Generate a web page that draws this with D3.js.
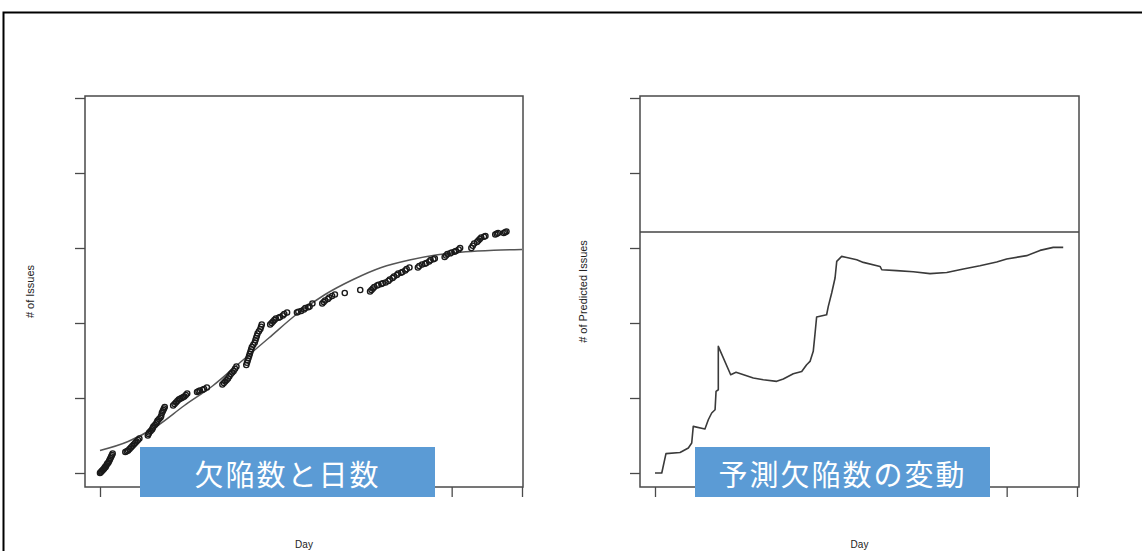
<!DOCTYPE html>
<html>
<head>
<meta charset="utf-8">
<script src="https://cdn.jsdelivr.net/npm/d3@7"></script>
<style>
  html, body { margin: 0; padding: 0; background: #fff; overflow: hidden; }
  svg { display: block; }
</style>
</head>
<body>
<svg id="chart" width="1142" height="551"></svg>
<script>
// ---------- data ----------
// Left panel: observed cumulative issues per day (scatter)
const issueDays = [0,0.5,1,1.5,2,2.5,3,3.5,4,4.5,5,5.5,6,6.5,7,7.5,8,8.5,9,
  18,19,20,21,22,23,24,25,26,27,28,
  34,34.5,35,36,37,37.5,38,39,40,40.5,41,42,43,43.5,44,44.5,45,45.5,46,
  52,53,54,55,56,57,58,59,60,61,62,
  69,70,71,73,74,76,
  87,88,89,90,91,92,93,94,95,96,97,
  104,104.5,105,105.5,106,106.5,107,107.5,108,109,110,110.5,111,111.5,112,113,114,114.5,115,
  121,122,123,124,125,127,128,130,131,133,
  140,141,143,145,146,148,149,151,
  158,159,160,162,163,165,167,
  174,185,
  192,193,194,195,197,198,200,201,203,205,206,208,209,211,212,214,215,217,218,220,
  226,227,229,231,232,234,235,237,238,
  245,246,247,249,250,252,253,255,256,
  264,265,266,268,269,270,271,273,274,
  281,282,283,287,288,289];
const issueCounts = [0,0.5,1,1.5,2,2.5,3,4,4,5,6,6.5,7,8,9,10,11,12,13,
  14,14.5,15,16,17,18,19,20,21,22,23,
  25,26,27,28,29,30,31,32,33,34,35,36,37,38,40,41,42,43,44,
  45,46,47,48,49,49.5,50,50.5,51,52,53,
  54,54.5,55,55.5,56,57,
  59,60,61,62,63,64.5,66,67,68,69.5,71,
  72,73.5,75,76.5,78,79.5,81,82.5,84,85.5,87,88.5,90,91.5,93,94.5,96,97.5,99,
  99,100,101,102,103,103.5,104,105,106,107,
  107,107.5,108,109,110,110.5,111,113,
  113,114,115,116,117,118,119,
  120,122,
  121,122,123,124,125,125.5,126,126.5,127,128,129,130,131,132,133,133.5,134,135,136,137,
  137,138,139,139.5,140,141,142,142.5,143,
  144,145,146,146.5,147,147.5,148,149,150,
  150,151.5,153,154,155,156,157,157.5,158,
  159,159.5,160,160,160.5,161];
// Left panel: fitted growth curve
const fitDays   = [0,20,40,60,80,100,120,140,160,180,200,220,240,260,280,300];
const fitCounts = [15,21,31,45,58,74,90,106,119,129,137,142,145.5,147.5,148.5,149];

// Right panel: predicted total issues over time
const predDays = [0,4.8,7.8,17.8,23.7,26.1,27.2,35.5,37.9,40.3,42.7,43.4,45,45,
  53.8,57.6,69.9,77,86.5,91.2,98.3,104.3,107.8,110.2,112.5,113.7,114.9,122,123.2,
  125.6,128,129.2,132.7,136.3,143.4,148.1,160,161.2,171.8,183.6,195.5,207.4,219.2,
  231,242.9,250,264.2,273.7,283.1,290.2];
const predCounts = [0,0,12.9,13.7,16.7,20,31.1,29.3,35.5,40,42.2,54.4,55.5,84.4,
  65.5,67.1,63.3,62.2,61.1,62.7,66.2,67.7,72.2,74.4,81.1,92.2,104,105.5,111.1,
  120,130,141.1,144.4,143.7,142.2,140.4,137.7,135.5,134.9,134.2,132.9,133.7,136,
  138.2,140.7,142.7,144.9,148.4,150.4,150.4];
const predReference = 160.7;

// Axes ticks (labels not shown in the original)
const xTicks = [0,50,100,150,200,250,300];
const yTicks = [0,50,100,150,200,250];

const titles = ["欠陥数と日数", "予測欠陥数の変動"];
const yLabels = ["# of Issues", "# of Predicted Issues"];
const xLabel = "Day";

// ---------- drawing ----------
const svg = d3.select("#chart");

// outer frame
svg.append("rect").attr("x", 3.5).attr("y", 12.5).attr("width", 1160).attr("height", 560)
  .attr("fill", "none").attr("stroke", "#000").attr("stroke-width", 2);

const panels = [
  {box: {x0: 85, x1: 523, y0: 96, y1: 487}, xr: [100, 522], ylabX: 30, banner: [140, 435]},
  {box: {x0: 640, x1: 1079, y0: 96, y1: 487}, xr: [655, 1077], ylabX: 583, banner: [695, 990]}
];

const frameColor = "#4a4a4a";

panels.forEach((p, i) => {
  const x = d3.scaleLinear().domain([0, 300]).range(p.xr);
  const y = d3.scaleLinear().domain([0, 250]).range([473, 98]);
  p.x = x; p.y = y;
  const g = svg.append("g");

  const ax = g.append("g").attr("transform", `translate(${p.box.x0},0)`)
    .call(d3.axisLeft(y).tickValues(yTicks).tickSize(10).tickFormat(""));
  const bx = g.append("g").attr("transform", `translate(0,${p.box.y1})`)
    .call(d3.axisBottom(x).tickValues(xTicks).tickSize(10).tickFormat(""));
  [ax, bx].forEach(a => {
    a.select(".domain").remove();
    a.selectAll("line").attr("stroke", frameColor).attr("stroke-width", 1.3);
  });

  g.append("rect").attr("x", p.box.x0).attr("y", p.box.y0)
    .attr("width", p.box.x1 - p.box.x0).attr("height", p.box.y1 - p.box.y0)
    .attr("fill", "none").attr("stroke", frameColor).attr("stroke-width", 1.5);

  g.append("text").attr("x", (p.box.x0 + p.box.x1) / 2).attr("y", 548)
    .attr("text-anchor", "middle").attr("font-family", "Liberation Sans Narrow, Liberation Sans, Arial")
    .attr("font-size", 10).attr("fill", "#222").text(xLabel);
  g.append("text").attr("transform", `translate(${p.ylabX},${(p.box.y0 + p.box.y1) / 2}) rotate(-90)`)
    .attr("text-anchor", "middle").attr("dominant-baseline", "central")
    .attr("font-family", "Liberation Sans Narrow, Liberation Sans, Arial")
    .attr("font-size", 11).attr("fill", "#222").text(yLabels[i]);
});

// left panel content
{
  const p = panels[0];
  const g = svg.append("g");
  g.append("path")
    .datum(fitDays.map((d, i) => [d, fitCounts[i]]))
    .attr("d", d3.line().x(d => p.x(d[0])).y(d => p.y(d[1])).curve(d3.curveMonotoneX))
    .attr("fill", "none").attr("stroke", "#555").attr("stroke-width", 1.5);
  g.selectAll("circle").data(issueDays.map((d, i) => [d, issueCounts[i]])).enter()
    .append("circle")
    .attr("cx", d => p.x(d[0])).attr("cy", d => p.y(d[1])).attr("r", 2.6)
    .attr("fill", "none").attr("stroke", "#1a1a1a").attr("stroke-width", 1.4);
}

// right panel content
{
  const p = panels[1];
  const g = svg.append("g");
  g.append("line")
    .attr("x1", p.box.x0).attr("x2", p.box.x1)
    .attr("y1", p.y(predReference)).attr("y2", p.y(predReference))
    .attr("stroke", "#444").attr("stroke-width", 1.6);
  g.append("path")
    .datum(predDays.map((d, i) => [d, predCounts[i]]))
    .attr("d", d3.line().x(d => p.x(d[0])).y(d => p.y(d[1])))
    .attr("fill", "none").attr("stroke", "#3a3a3a").attr("stroke-width", 1.6)
    .attr("stroke-linejoin", "round");
}

// banners
panels.forEach((p, i) => {
  const g = svg.append("g");
  g.append("rect").attr("x", p.banner[0]).attr("y", 447)
    .attr("width", p.banner[1] - p.banner[0]).attr("height", 50)
    .attr("fill", "#5b9bd5");
  g.append("text").attr("x", (p.banner[0] + p.banner[1]) / 2).attr("y", 473)
    .attr("text-anchor", "middle").attr("dominant-baseline", "central")
    .attr("font-family", "Noto Sans CJK JP").attr("font-size", 29)
    .attr("letter-spacing", 2).attr("fill", "#fff").text(titles[i]);
});
</script>
</body>
</html>
